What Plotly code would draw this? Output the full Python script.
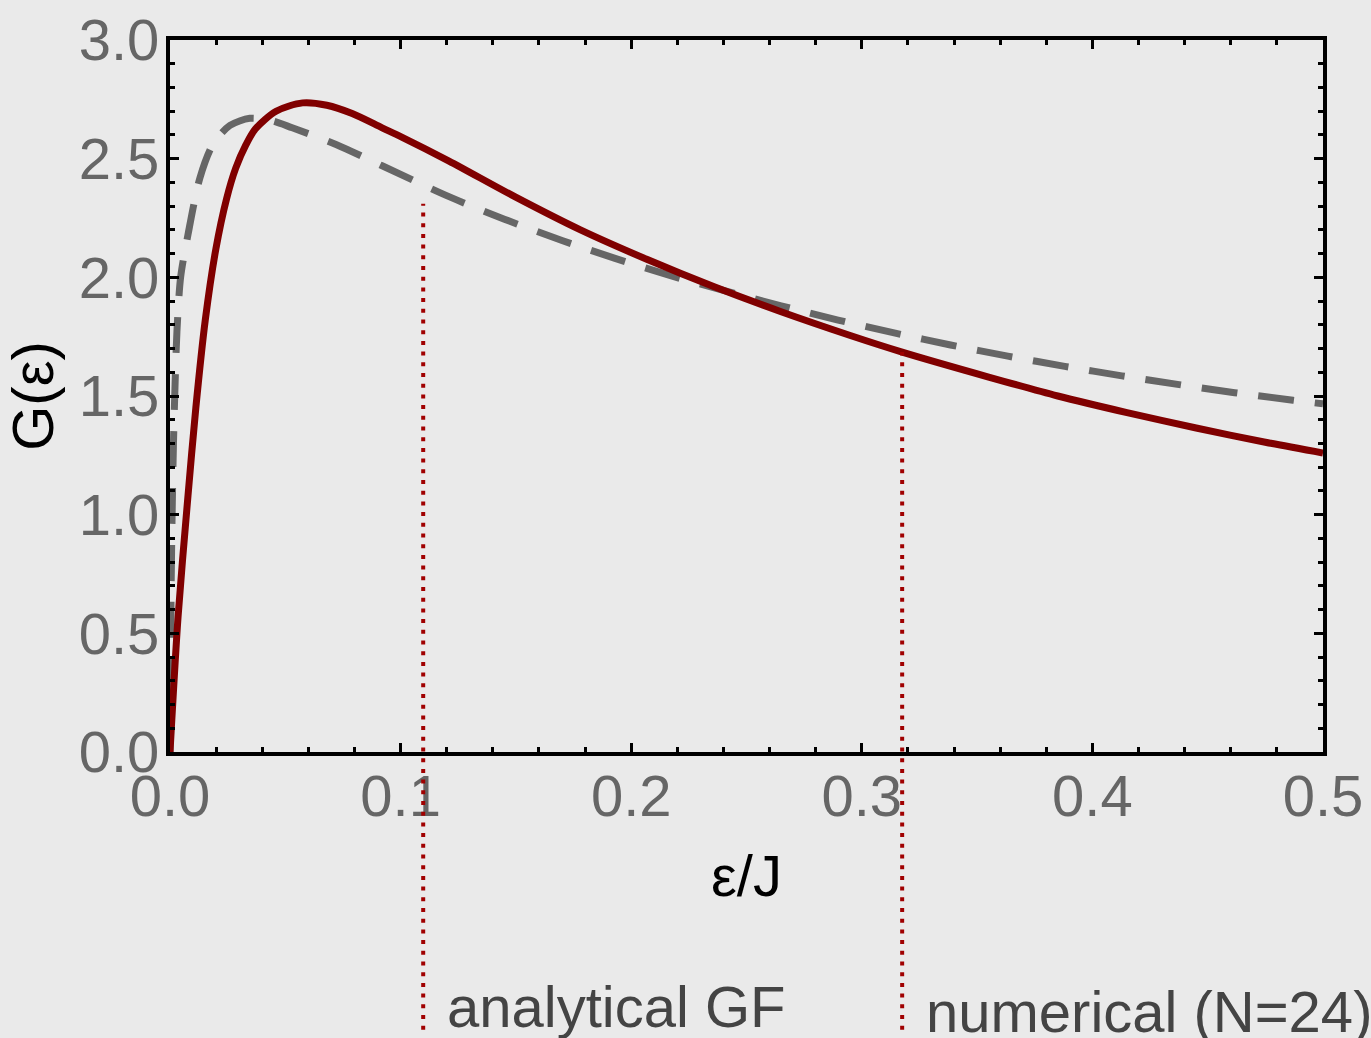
import plotly.graph_objects as go

# ---- data ----
analytic_x = [0, 0.0035, 0.0078, 0.0112, 0.0153, 0.0199, 0.0245, 0.0285, 0.033, 0.037,
              0.046, 0.0575, 0.068, 0.079, 0.092, 0.1007, 0.121, 0.1495, 0.178, 0.207,
              0.236, 0.265, 0.295, 0.3175, 0.355, 0.385, 0.415, 0.445, 0.475, 0.5]
analytic_y = [0, 0.57, 1.08, 1.45, 1.82, 2.12, 2.33, 2.46, 2.56, 2.625,
              2.70, 2.735, 2.725, 2.69, 2.63, 2.59, 2.49, 2.34, 2.20, 2.075,
              1.96, 1.855, 1.755, 1.685, 1.58, 1.50, 1.43, 1.365, 1.305, 1.26]

numeric_x = [0, 0.0005, 0.001, 0.0015, 0.0022, 0.003, 0.0046, 0.0078, 0.013, 0.0186,
             0.026, 0.0346, 0.044, 0.053, 0.072, 0.092, 0.121, 0.145, 0.170, 0.193,
             0.216, 0.240, 0.265, 0.2897, 0.3145, 0.3385, 0.3633, 0.388, 0.4128, 0.4376,
             0.4617, 0.487, 0.5]
numeric_y = [0, 0.7, 1.05, 1.3, 1.55, 1.77, 2.0, 2.18, 2.42, 2.56,
             2.64, 2.67, 2.66, 2.63, 2.56, 2.47, 2.34, 2.245, 2.155, 2.08,
             2.01, 1.945, 1.88, 1.82, 1.765, 1.715, 1.668, 1.625, 1.585, 1.548,
             1.514, 1.482, 1.467]

marker_x = [0.1098, 0.3175]          # vertical dotted markers
marker_top = [2.31, 1.685]           # G value where each marker ends
marker_labels = ["analytical GF", "numerical (N=24)"]

x_ticks = [0.0, 0.1, 0.2, 0.3, 0.4, 0.5]
y_ticks = [0.0, 0.5, 1.0, 1.5, 2.0, 2.5, 3.0]
X_RANGE = [0, 0.5]
Y_RANGE = [0, 3.0]

RED = "#800000"
GRAY = "#666666"
BG = "#EAEAEA"
FONT = "Liberation Sans"

fig = go.Figure()
fig.add_trace(go.Scatter(x=numeric_x, y=numeric_y, mode="lines",
                         line=dict(color=GRAY, width=7, dash="36px,21px", shape="spline", smoothing=0.8),
                         showlegend=False, hoverinfo="skip"))
fig.add_trace(go.Scatter(x=analytic_x, y=analytic_y, mode="lines",
                         line=dict(color=RED, width=7, shape="spline", smoothing=0.8),
                         showlegend=False, hoverinfo="skip"))

PAPER_BOTTOM = -0.39
label_y = [-0.358, -0.365]
for xv, top, lab, ly in zip(marker_x, marker_top, marker_labels, label_y):
    fig.add_shape(type="line", xref="x", yref="paper", x0=xv, x1=xv,
                  y0=PAPER_BOTTOM, y1=(top - Y_RANGE[0]) / (Y_RANGE[1] - Y_RANGE[0]),
                  line=dict(color="#A00000", width=4, dash="4px,6.7px"), layer="above")
    fig.add_annotation(x=xv, xref="x", y=ly, yref="paper", text=lab, showarrow=False,
                       xanchor="left", yanchor="middle", xshift=22,
                       font=dict(family=FONT, size=58, color="#444444"))

axis_common = dict(
    showline=True, linewidth=4, linecolor="black", mirror="allticks",
    ticks="inside", ticklen=9, tickwidth=3, tickcolor="black",
    showgrid=False, zeroline=False, automargin=False,
    tickfont=dict(family=FONT, size=58, color=GRAY),
    tickformat=".1f",
)

fig.update_xaxes(range=X_RANGE, tickvals=x_ticks,
                 minor=dict(dtick=0.02, ticks="inside", ticklen=5, tickwidth=2.5, tickcolor="black", showgrid=False),
                 title=dict(text="ε/J", font=dict(family=FONT, size=58, color="black"), standoff=30),
                 ticklabelstandoff=-10, **axis_common)
fig.update_yaxes(range=Y_RANGE, tickvals=y_ticks,
                 minor=dict(dtick=0.1, ticks="inside", ticklen=5, tickwidth=2.5, tickcolor="black", showgrid=False),
                 title=dict(text="G(ε)", font=dict(family=FONT, size=58, color="black"), standoff=25),
                 ticklabelstandoff=-5, **axis_common)

fig.update_layout(width=1371, height=1038, autosize=False,
                  margin=dict(l=170, r=48, t=40, b=286, pad=0),
                  paper_bgcolor=BG, plot_bgcolor=BG,
                  font=dict(family=FONT))

fig.write_html("out.html", config={"displayModeBar": False},
               post_script="document.body.style.margin='0';document.body.style.background='#EAEAEA';")
